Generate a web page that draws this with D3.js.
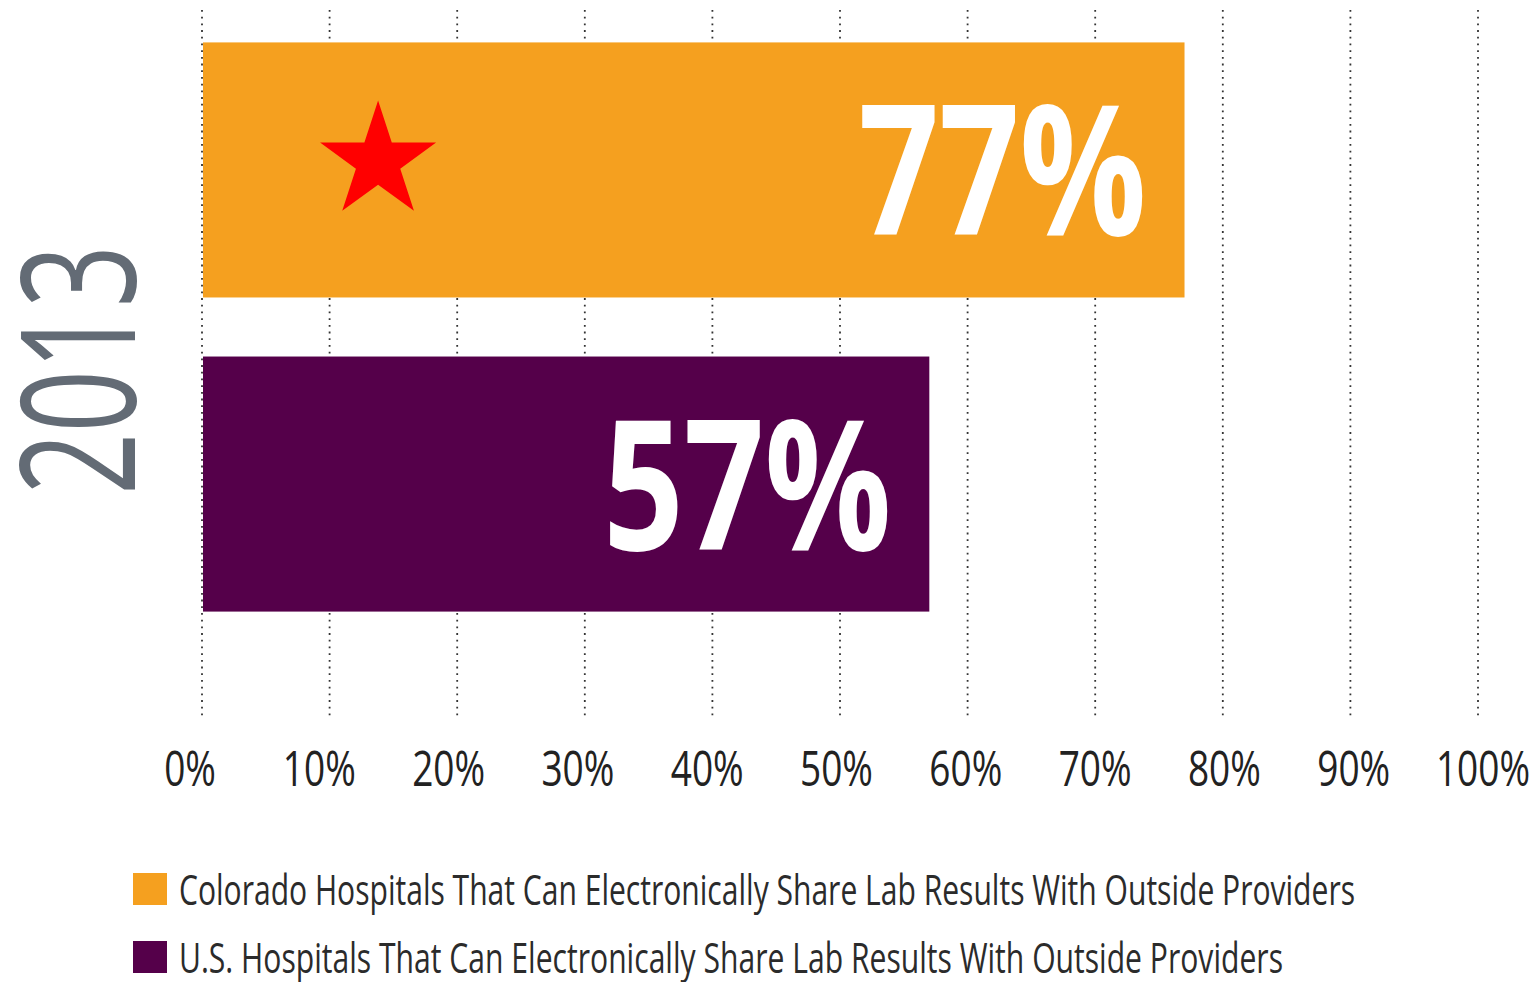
<!DOCTYPE html>
<html>
<head>
<meta charset="utf-8">
<script src="https://cdn.jsdelivr.net/npm/d3@7"></script>
<style>
  html, body { margin: 0; padding: 0; background: #fff; }
  svg { display: block; }
  text { font-family: "Open Sans", "Noto Sans", sans-serif; }
</style>
</head>
<body>
<svg id="chart" width="1537" height="982"></svg>
<script>
// ---- data ----
const categories = ["Colorado", "U.S."];
const values = [77, 57];
const valueLabels = ["77%", "57%"];
const colors = ["#F5A01F", "#55004A"];
const legendLabels = [
  "Colorado Hospitals That Can Electronically Share Lab Results With Outside Providers",
  "U.S. Hospitals That Can Electronically Share Lab Results With Outside Providers"
];
const tickValues = [0, 10, 20, 30, 40, 50, 60, 70, 80, 90, 100];
const tickLabels = ["0%", "10%", "20%", "30%", "40%", "50%", "60%", "70%", "80%", "90%", "100%"];
const yearLabel = "2013";
const starAt = 13.8; // star marker position (percent) on the Colorado bar

// ---- layout ----
const svg = d3.select("#chart");
const x = d3.scaleLinear().domain([0, 100]).range([202, 1478]);
const xLabel = d3.scaleLinear().domain([0, 100]).range([190, 1483]);
const y = d3.scaleBand().domain(categories).range([11, 643]).paddingInner(0.188).paddingOuter(0.1);

// gridlines
svg.append("g").selectAll("line").data(tickValues).join("line")
  .attr("x1", d => x(d)).attr("x2", d => x(d))
  .attr("y1", 10).attr("y2", 720)
  .attr("stroke", "#333")
  .attr("stroke-width", 1.8)
  .attr("stroke-dasharray", "1.8,4.9");

// bars
svg.append("g").selectAll("rect").data(values).join("rect")
  .attr("x", x(0) + 1)
  .attr("y", (d, i) => y(categories[i]))
  .attr("width", d => x(d) - x(0) - 1)
  .attr("height", y.bandwidth())
  .attr("fill", (d, i) => colors[i]);

// value labels
svg.append("g").selectAll("text").data(values).join("text")
  .attr("x", d => x(d) - 38)
  .attr("y", (d, i) => y(categories[i]) + y.bandwidth() / 2 + 65.5)
  .attr("text-anchor", "end")
  .attr("fill", "#fff")
  .attr("font-weight", 700)
  .attr("font-size", 182)
  .attr("textLength", 288)
  .attr("lengthAdjust", "spacingAndGlyphs")
  .text((d, i) => valueLabels[i]);

// star marker
const starR = 61;
svg.append("path")
  .attr("d", d3.symbol().type(d3.symbolStar).size(starR * starR / 0.89081309152928522810)())
  .attr("transform", `translate(${x(starAt)},${y(categories[0]) + y.bandwidth() / 2 - 8.5})`)
  .attr("fill", "#FF0000");

// tick labels
const tl = svg.append("g").selectAll("text").data(tickValues).join("text")
  .attr("x", d => xLabel(d))
  .attr("y", 786)
  .attr("text-anchor", "middle")
  .attr("fill", "#222")
  .attr("font-size", 50)
  .text((d, i) => tickLabels[i]);
tl.each(function() {
  const w = this.getComputedTextLength();
  d3.select(this).attr("textLength", w * 0.74).attr("lengthAdjust", "spacingAndGlyphs");
});

// year label (rotated)
svg.append("text")
  .attr("transform", "translate(135,370) rotate(-90)")
  .attr("text-anchor", "middle")
  .attr("fill", "#636B75")
  .attr("font-size", 160)
  .attr("textLength", 250)
  .attr("lengthAdjust", "spacingAndGlyphs")
  .text(yearLabel);

// legend
const legendY = [873, 941];
const legendW = [1176, 1104];
const lg = svg.append("g");
lg.selectAll("rect").data(legendLabels).join("rect")
  .attr("x", 133).attr("y", (d, i) => legendY[i])
  .attr("width", 34).attr("height", 32)
  .attr("fill", (d, i) => colors[i]);
lg.selectAll("text").data(legendLabels).join("text")
  .attr("x", 179).attr("y", (d, i) => legendY[i] + 32)
  .attr("fill", "#2b2b2b")
  .attr("font-size", 42)
  .attr("textLength", (d, i) => legendW[i])
  .attr("lengthAdjust", "spacingAndGlyphs")
  .text(d => d);
</script>
</body>
</html>
